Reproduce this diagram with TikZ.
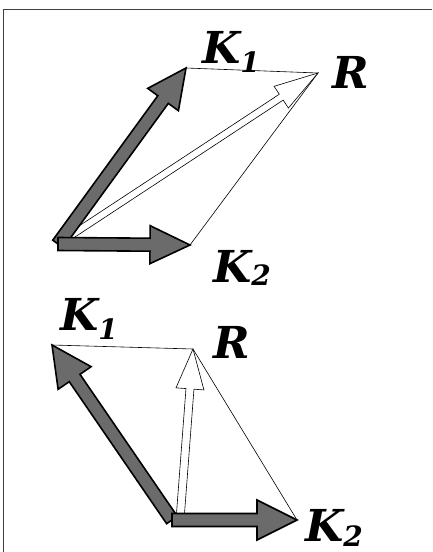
\documentclass[tikz,border=0pt]{standalone}
\usepackage{fontspec}
\newfontfamily\labelfont{DejaVu Serif}
\usetikzlibrary{calc}

% fat vector from #1 to #2: shaft half width #3, head half width #4, head length #5, style #6
\newcommand{\fatvec}[6]{%
  \path ($(#2)!#5!(#1)$) coordinate (headbase);
  \filldraw[#6] ($(#1)!#3!90:(#2)$) -- ($(headbase)!#3!90:(#2)$) -- ($(headbase)!#4!90:(#2)$)
    -- (#2) -- ($(headbase)!#4!-90:(#2)$) -- ($(headbase)!#3!-90:(#2)$) -- ($(#1)!#3!-90:(#2)$) -- cycle;
}
\newcommand{\lowidx}[2]{\raisebox{-#1}{\fontsize{28}{28}\selectfont #2}}

\begin{document}
\begin{tikzpicture}[x=1pt, y=-1pt]
                \useasboundingbox (0,0) rectangle (432,552);
                \tikzstyle{GrayVec} = [fill=black!58, draw=black, line width=1.6pt, line join=miter]
                \tikzstyle{WhiteVec} = [fill=white, draw=black, line width=0.6pt]
                \tikzstyle{Side} = [draw=black, line width=0.6pt]
                \tikzstyle{Label} = [inner sep=0pt, anchor=base west,
                                     font=\labelfont\bfseries\itshape\fontsize{44}{44}\selectfont]

                % 1. Frame (left and top edges only)
                \coordinate (FrameBot) at (3,552);
                \coordinate (FrameCor) at (3,9);
                \coordinate (FrameRgt) at (432,9);
                \draw[black!75, line width=0.8pt] (FrameBot) -- (FrameCor) -- (FrameRgt);

                % 2. Coordinate Definitions
                % Upper diagram
                \coordinate (O1)  at (58,244);
                \coordinate (K1a) at (186,68);
                \coordinate (K2a) at (190,245);
                \coordinate (Ra)  at (318,73);

                % Lower diagram
                \coordinate (O2)  at (172,520);
                \coordinate (S2)  at (180,520);
                \coordinate (K1b) at (52,345);
                \coordinate (K2b) at (297,520);
                \coordinate (Rb)  at (193,349);

                % 3. Parallelogram sides
                \draw[Side] (K1a) -- (Ra) -- (K2a);
                \draw[Side] (K1b) -- (Rb) -- (K2b);

                % 4. Resultant vectors (white)
                \fatvec{O1}{Ra}{3.5pt}{13pt}{44pt}{WhiteVec}
                \fatvec{S2}{Rb}{4pt}{14pt}{40pt}{WhiteVec}

                % 5. Component vectors (gray)
                \fatvec{O1}{K1a}{6.5pt}{19pt}{39pt}{GrayVec}
                \fatvec{O1}{K2a}{6.5pt}{19pt}{40pt}{GrayVec}
                \fatvec{O2}{K1b}{6.5pt}{20pt}{40pt}{GrayVec}
                \fatvec{O2}{K2b}{6.5pt}{20pt}{40pt}{GrayVec}

                % 6. Labels
                \node[Label] (k1top) at (202,63)  {K\lowidx{9pt}{1}};
                \node[Label] (rtop)  at (332,88)  {R};
                \node[Label] (k2top) at (213,282) {K\lowidx{3pt}{2}};
                \node[Label] (k1bot) at (60,330)  {K\lowidx{9pt}{1}};
                \node[Label] (rbot)  at (213,358) {R};
                \node[Label] (k2bot) at (305,541) {K\lowidx{5pt}{2}};

            \end{tikzpicture}
\end{document}
